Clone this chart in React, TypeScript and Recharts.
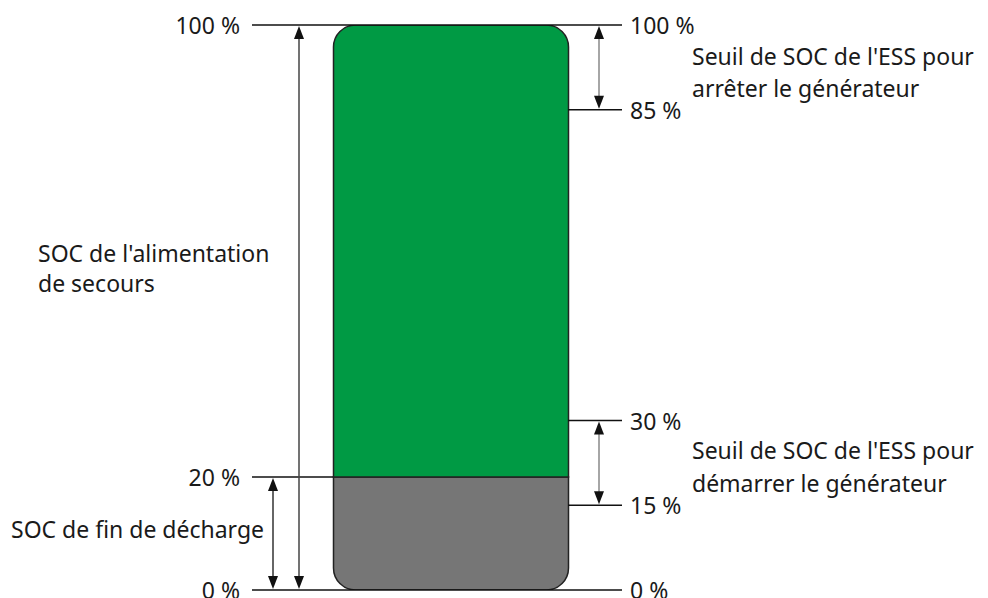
import React from 'react';
import { ComposedChart, Bar, XAxis, YAxis, ReferenceLine, ReferenceDot } from 'recharts';

// battery split: end-of-discharge reserve + backup capacity (SOC %)
const battery = [{ pos: 450.5, reserve: 20, backup: 80 }];

const leftLevels = [100, 20, 0];
const rightLevels = [100, 85, 30, 15, 0];

const stopRange = [85, 100];
const startRange = [15, 30];
const backupRange = [0, 100];
const reserveRange = [0, 20];

const stopText = ["Seuil de SOC de l'ESS pour", 'arrêter le générateur'];
const startText = ["Seuil de SOC de l'ESS pour", 'démarrer le générateur'];
const backupText = ["SOC de l'alimentation", 'de secours'];
const reserveText = ['SOC de fin de décharge'];
const backupTextAt = 58;

// layout (x axis runs in pixel units)
const W = 988;
const H = 598;
const BAT_W = 235;
const BAT_L = 333;
const BAT_R = 568;
const LINE_L = 252;
const LINE_R = 622;
const ARROW_OUT = 299;
const ARROW_IN = 273;
const ARROW_R = 599;

const FONT = '"Noto Sans", "Open Sans", sans-serif';
const FS = 23;
const TEXT = '#1a1a1a';
const GREEN = '#009a44';
const GREY = '#767676';
const fmt = (v: number) => `${v} %`;

const levelShape = (v: number, left: boolean, right: boolean) => (p: any) => (
  <g>
    <line x1={p.x1} y1={p.y1} x2={p.x2} y2={p.y2} stroke="#111" strokeWidth={1.5} />
    {left && (
      <text x={p.x1 - 12} y={p.y1} textAnchor="end" dominantBaseline="central" fontSize={FS} fontFamily={FONT} fill={TEXT}>
        {fmt(v)}
      </text>
    )}
    {right && (
      <text x={p.x2 + 8} y={p.y2} textAnchor="start" dominantBaseline="central" fontSize={FS} fontFamily={FONT} fill={TEXT}>
        {fmt(v)}
      </text>
    )}
  </g>
);

const arrowShape = (shaft: string) => (p: any) => {
  const x = p.x1;
  const top = Math.min(p.y1, p.y2);
  const bot = Math.max(p.y1, p.y2);
  const hw = 5;
  const hl = 14;
  return (
    <g>
      <line x1={x} y1={top + 4} x2={x} y2={bot - 4} stroke={shaft} strokeWidth={1.5} />
      <polygon points={`${x},${top + 1} ${x - hw},${top + hl} ${x + hw},${top + hl}`} fill="#111" />
      <polygon points={`${x},${bot - 1} ${x - hw},${bot - hl} ${x + hw},${bot - hl}`} fill="#111" />
    </g>
  );
};

const textShape = (lines: string[], dy: number, gap: number) => (p: any) => (
  <text x={p.cx} y={p.cy + dy} fontSize={FS} fontFamily={FONT} fill={TEXT}>
    {lines.map((t, i) => (
      <tspan key={i} x={p.cx} dy={i === 0 ? 0 : gap}>
        {t}
      </tspan>
    ))}
  </text>
);

const mid = (r: number[]) => (r[0] + r[1]) / 2;

export default function App() {
  return (
    <div style={{ width: W, height: H, background: '#fff' }}>
      <style>{'body{margin:0}'}</style>
      <ComposedChart width={W} height={H} data={battery} margin={{ top: 25, right: 0, bottom: 8, left: 0 }}>
        <XAxis dataKey="pos" type="number" domain={[0, W]} hide allowDataOverflow />
        <YAxis type="number" domain={[0, 100]} hide allowDataOverflow />
        <Bar dataKey="reserve" stackId="soc" fill={GREY} stroke="#222" strokeWidth={1.5} barSize={BAT_W} radius={[0, 0, 22, 22]} isAnimationActive={false} />
        <Bar dataKey="backup" stackId="soc" fill={GREEN} stroke="#222" strokeWidth={1.5} barSize={BAT_W} radius={[22, 22, 0, 0]} isAnimationActive={false} />

        {leftLevels.map((v) => (
          <ReferenceLine
            key={`l${v}`}
            segment={[{ x: LINE_L, y: v }, { x: v === 100 || v === 0 ? LINE_R : BAT_L, y: v }]}
            shape={levelShape(v, true, v === 100 || v === 0)}
            ifOverflow="visible"
          />
        ))}
        {rightLevels
          .filter((v) => v !== 100 && v !== 0)
          .map((v) => (
            <ReferenceLine
              key={`r${v}`}
              segment={[{ x: BAT_R, y: v }, { x: LINE_R, y: v }]}
              shape={levelShape(v, false, true)}
              ifOverflow="visible"
            />
          ))}

        <ReferenceLine segment={[{ x: ARROW_OUT, y: backupRange[0] }, { x: ARROW_OUT, y: backupRange[1] }]} shape={arrowShape('#444')} ifOverflow="visible" />
        <ReferenceLine segment={[{ x: ARROW_IN, y: reserveRange[0] }, { x: ARROW_IN, y: reserveRange[1] }]} shape={arrowShape('#333')} ifOverflow="visible" />
        <ReferenceLine segment={[{ x: ARROW_R, y: stopRange[0] }, { x: ARROW_R, y: stopRange[1] }]} shape={arrowShape('#888')} ifOverflow="visible" />
        <ReferenceLine segment={[{ x: ARROW_R, y: startRange[0] }, { x: ARROW_R, y: startRange[1] }]} shape={arrowShape('#888')} ifOverflow="visible" />

        <ReferenceDot x={692} y={mid(stopRange)} r={0} shape={textShape(stopText, -2, 32)} ifOverflow="visible" />
        <ReferenceDot x={692} y={mid(startRange)} r={0} shape={textShape(startText, -4, 33)} ifOverflow="visible" />
        <ReferenceDot x={38} y={backupTextAt} r={0} shape={textShape(backupText, 0, 30)} ifOverflow="visible" />
        <ReferenceDot x={11} y={mid(reserveRange)} r={0} shape={textShape(reserveText, 4, 0)} ifOverflow="visible" />
      </ComposedChart>
    </div>
  );
}
